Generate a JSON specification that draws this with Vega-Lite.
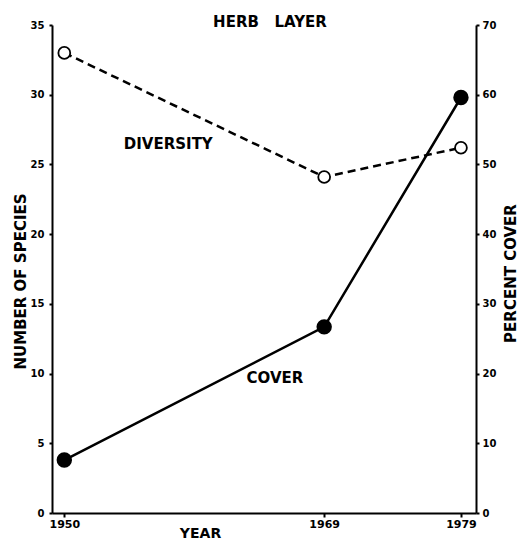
{
  "$schema": "https://vega.github.io/schema/vega-lite/v6.json",
  "width": 424,
  "height": 488,
  "autosize": {"type": "none"},
  "padding": {"left": 52, "top": 25, "right": 44, "bottom": 27},
  "background": "white",
  "config": {
    "view": {"stroke": null},
    "font": "DejaVu Sans",
    "axis": {
      "domainColor": "black", "domainWidth": 2, "tickColor": "black", "tickWidth": 2,
      "labelColor": "black", "labelFont": "DejaVu Sans", "labelFontWeight": "bold", "labelFontSize": 10,
      "titleColor": "black", "titleFont": "DejaVu Sans", "titleFontWeight": "bold", "titleFontSize": 15,
      "grid": false
    }
  },
  "title": {"text": "HERB\u00a0\u00a0\u00a0LAYER", "fontSize": 15, "fontWeight": "bold", "font": "DejaVu Sans", "color": "black", "baseline": "bottom", "offset": -25, "dx": 6},
  "datasets": {
    "series": [
      {"series": "DIVERSITY", "year": 1950, "value": 33},
      {"series": "DIVERSITY", "year": 1969, "value": 24.1},
      {"series": "DIVERSITY", "year": 1979, "value": 26.2},
      {"series": "COVER", "year": 1950, "value": 7.6},
      {"series": "COVER", "year": 1969, "value": 26.7},
      {"series": "COVER", "year": 1979, "value": 59.6}
    ],
    "labels": [
      {"label": "DIVERSITY", "year": 1957.6, "value": 26.5},
      {"label": "COVER", "year": 1965.4, "value": 9.7}
    ]
  },
  "encoding": {
    "x": {
      "field": "year", "type": "quantitative",
      "scale": {"domain": [1949.1, 1980.1], "zero": false, "nice": false},
      "axis": {"values": [1950, 1969, 1979], "format": "d", "title": "YEAR", "titleFontSize": 14, "titleX": 148, "titleY": 24, "titleBaseline": "alphabetic", "tickSize": 4, "labelPadding": 1, "labelFontSize": 11}
    }
  },
  "layer": [
    {
      "encoding": {
        "y": {
          "field": "value", "type": "quantitative",
          "scale": {"domain": [0, 35], "nice": false},
          "axis": {"orient": "left", "values": [0, 5, 10, 15, 20, 25, 30, 35], "title": "NUMBER OF SPECIES", "titleX": -32, "titleY": 256, "titleAlign": "center", "titleBaseline": "middle", "tickSize": 3, "labelPadding": 5}
        }
      },
      "layer": [
        {
          "data": {"name": "series"},
          "transform": [{"filter": "datum.series === 'DIVERSITY'"}],
          "mark": {"type": "line", "color": "black", "strokeWidth": 2.5, "strokeDash": [8, 5]}
        },
        {
          "data": {"name": "series"},
          "transform": [{"filter": "datum.series === 'DIVERSITY'"}],
          "mark": {"type": "point", "shape": "circle", "filled": true, "fill": "white", "stroke": "black", "strokeWidth": 1.8, "size": 140, "opacity": 1}
        },
        {
          "data": {"name": "labels"},
          "mark": {"type": "text", "color": "black", "fontWeight": "bold", "fontSize": 15, "font": "DejaVu Sans", "align": "center", "baseline": "middle"},
          "encoding": {"text": {"field": "label"}}
        }
      ]
    },
    {
      "data": {"name": "series"},
      "transform": [{"filter": "datum.series === 'COVER'"}],
      "encoding": {
        "y": {
          "field": "value", "type": "quantitative",
          "scale": {"domain": [0, 70], "nice": false},
          "axis": {"orient": "right", "values": [0, 10, 20, 30, 40, 50, 60, 70], "title": "PERCENT COVER", "titleAngle": 270, "titleFontSize": 15, "titleX": 34, "titleY": 248, "titleAlign": "center", "titleBaseline": "middle", "tickSize": 3, "labelPadding": 3}
        }
      },
      "layer": [
        {"mark": {"type": "line", "color": "black", "strokeWidth": 2.5}},
        {"mark": {"type": "point", "shape": "circle", "filled": true, "fill": "black", "stroke": "black", "size": 180, "opacity": 1}}
      ]
    }
  ],
  "resolve": {"scale": {"y": "independent"}}
}
